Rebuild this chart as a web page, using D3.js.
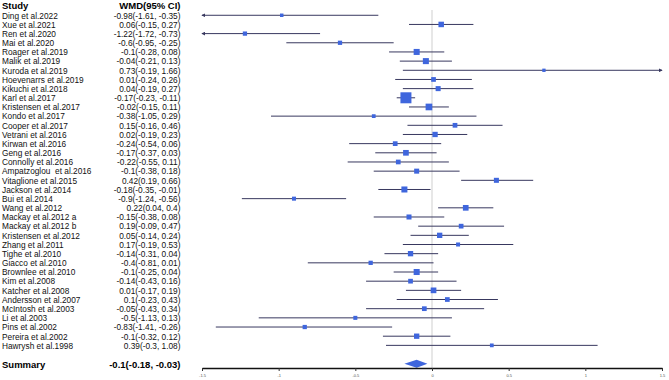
<!DOCTYPE html>
<html>
<head>
<meta charset="utf-8">
<script src="https://cdn.jsdelivr.net/npm/d3@7"></script>
<style>
  body { margin: 0; background: #fff; }
  svg { display: block; font-family: Arial, "Liberation Sans", sans-serif; }
</style>
</head>
<body>
<div id="chart"></div>
<script>
// study data
var studies = ["Ding et al.2022", "Xue et al.2021", "Ren et al.2020", "Mai et al.2020",
  "Roager et al.2019", "Malik et al.2019", "Kuroda et al.2019", "Hoevenarrs et al.2019",
  "Kikuchi et al.2018", "Karl et al.2017", "Kristensen et al.2017", "Kondo et al.2017",
  "Cooper et al.2017", "Vetrani et al.2016", "Kirwan et al.2016", "Geng et al.2016",
  "Connolly et al.2016", "Ampatzoglou  et al.2016", "Vitaglione et al.2015", "Jackson et al.2014",
  "Bui et al.2014", "Wang et al.2012", "Mackay et al.2012 a", "Mackay et al.2012 b",
  "Kristensen et al.2012", "Zhang et al.2011", "Tighe et al.2010", "Giacco et al.2010",
  "Brownlee et al.2010", "Kim et al.2008", "Katcher et al.2008", "Andersson et al.2007",
  "McIntosh et al.2003", "Li et al.2003", "Pins et al.2002", "Pereira et al.2002",
  "Hawrysh et al.1998"];
var wmd = [-0.98, 0.06, -1.22, -0.6, -0.1, -0.04, 0.73, 0.01, 0.04, -0.17, -0.02, -0.38,
  0.15, 0.02, -0.24, -0.17, -0.22, -0.1, 0.42, -0.18, -0.9, 0.22, -0.15, 0.19, 0.05, 0.17,
  -0.14, -0.4, -0.1, -0.14, 0.01, 0.1, -0.05, -0.5, -0.83, -0.1, 0.39];
var lower = [-1.61, -0.15, -1.72, -0.95, -0.28, -0.21, -0.19, -0.24, -0.19, -0.23, -0.15, -1.05,
  -0.16, -0.19, -0.54, -0.37, -0.55, -0.38, 0.19, -0.35, -1.24, 0.04, -0.38, -0.09, -0.14, -0.19,
  -0.31, -0.81, -0.25, -0.43, -0.17, -0.23, -0.43, -1.13, -1.41, -0.32, -0.3];
var upper = [-0.35, 0.27, -0.73, -0.25, 0.08, 0.13, 1.66, 0.26, 0.27, -0.11, 0.11, 0.29,
  0.46, 0.23, 0.06, 0.03, 0.11, 0.18, 0.66, -0.01, -0.56, 0.4, 0.08, 0.47, 0.24, 0.53,
  0.04, 0.01, 0.04, 0.16, 0.19, 0.43, 0.34, 0.13, -0.26, 0.12, 1.08];
// relative study weights
var weights = [1.2, 3.0, 1.8, 1.8, 3.6, 3.6, 1.1, 2.2, 2.5, 12.0, 4.4, 1.4,
  2.2, 2.8, 2.2, 3.2, 2.2, 2.5, 2.5, 3.6, 1.6, 3.2, 2.5, 2.2, 2.8, 1.6,
  2.8, 1.8, 3.6, 2.2, 3.2, 2.2, 2.2, 1.6, 1.8, 2.8, 1.4];
var summaryLabel = "Summary";
var summaryValues = [-0.1, -0.18, -0.03]; // wmd, lower, upper
var tickValues = [-1.5, -1, -0.5, 0, 0.5, 1, 1.5];

var width = 669, height = 380
  , blue = "#3f66dd"
  , lineColor = "#38385f";

var svg = d3.select("#chart").append("svg")
    .attr("width", width)
    .attr("height", height);

// scales
var x = d3.scaleLinear().domain([-1.5, 1.5]).range([202, 662]);
var y = d3.scaleLinear().domain([-1, 38]).range([6.1, 363.7]);
var boxSize = d3.scaleSqrt().domain([0, 12]).range([0, 11]);

// arrow marker for clipped intervals
svg.append("defs").append("marker")
    .attr("id", "arrow")
    .attr("viewBox", "0 0 6 6")
    .attr("refX", 5).attr("refY", 3)
    .attr("markerWidth", 4).attr("markerHeight", 4)
    .attr("markerUnits", "userSpaceOnUse")
    .attr("orient", "auto-start-reverse")
  .append("path")
    .attr("d", "M0,0L6,3L0,6Z")
    .attr("fill", lineColor);

// header
svg.append("text")
    .attr("x", 2).attr("y", y(-1)).attr("dy", "0.35em")
    .attr("font-size", 9.5).attr("font-weight", "bold")
    .text("Study");
svg.append("text")
    .attr("x", 180.5).attr("y", y(-1)).attr("dy", "0.35em")
    .attr("text-anchor", "end")
    .attr("font-size", 9.5).attr("font-weight", "bold")
    .text("WMD(95% CI)");

var rows = studies.map(function(s, i) {
  return {name: s, wmd: wmd[i], lo: lower[i], hi: upper[i], w: weights[i], i: i};
});

// study names + estimates
var txt = svg.append("g").attr("font-size", 8.3).attr("fill", "#111");
txt.selectAll(".name").data(rows).enter().append("text")
    .attr("class", "name")
    .attr("x", 2).attr("y", function(d) { return y(d.i); })
    .attr("dy", "0.4em")
    .style("white-space", "pre")
    .text(function(d) { return d.name; });
txt.selectAll(".est").data(rows).enter().append("text")
    .attr("class", "est")
    .attr("x", 180.5).attr("y", function(d) { return y(d.i); })
    .attr("dy", "0.4em")
    .attr("text-anchor", "end")
    .text(function(d) { return d.wmd + "(" + d.lo + ", " + d.hi + ")"; });

// summary text
svg.append("text")
    .attr("x", 2).attr("y", y(38)).attr("dy", "0.4em")
    .attr("font-size", 9.5).attr("font-weight", "bold")
    .text(summaryLabel);
svg.append("text")
    .attr("x", 180.5).attr("y", y(38)).attr("dy", "0.4em")
    .attr("text-anchor", "end")
    .attr("font-size", 9.5).attr("font-weight", "bold")
    .text(summaryValues[0] + "(" + summaryValues[1] + ", " + summaryValues[2] + ")");

// zero reference line
svg.append("line")
    .attr("x1", x(0)).attr("x2", x(0))
    .attr("y1", 10).attr("y2", 368)
    .attr("stroke", "#cfcfcf").attr("stroke-width", 1);

// confidence intervals
var dom = x.domain();
svg.append("g").selectAll("line").data(rows).enter().append("line")
    .attr("x1", function(d) { return x(Math.max(d.lo, dom[0])); })
    .attr("x2", function(d) { return x(Math.min(d.hi, dom[1])); })
    .attr("y1", function(d) { return y(d.i); })
    .attr("y2", function(d) { return y(d.i); })
    .attr("stroke", lineColor).attr("stroke-width", 1)
    .attr("marker-start", function(d) { return d.lo < dom[0] ? "url(#arrow)" : null; })
    .attr("marker-end", function(d) { return d.hi > dom[1] ? "url(#arrow)" : null; });

// weighted boxes
svg.append("g").selectAll("rect").data(rows).enter().append("rect")
    .attr("x", function(d) { return x(d.wmd) - boxSize(d.w) / 2; })
    .attr("y", function(d) { return y(d.i) - boxSize(d.w) / 2; })
    .attr("width", function(d) { return boxSize(d.w); })
    .attr("height", function(d) { return boxSize(d.w); })
    .attr("fill", blue);

// summary diamond
var sy = y(38);
svg.append("path")
    .attr("d", "M" + x(summaryValues[1]) + "," + sy +
               "L" + x(summaryValues[0]) + "," + (sy - 4) +
               "L" + x(summaryValues[2]) + "," + sy +
               "L" + x(summaryValues[0]) + "," + (sy + 4) + "Z")
    .attr("fill", blue);

// x axis
var axis = svg.append("g")
    .attr("transform", "translate(0,368)")
    .call(d3.axisBottom(x).tickValues(tickValues).tickSize(3).tickSizeOuter(0)
      .tickFormat(function(d) { return String(d); }));
axis.select(".domain").attr("stroke", "#111").attr("stroke-width", 1.4);
axis.selectAll(".tick line").attr("stroke", "#333");
axis.selectAll(".tick text")
    .attr("font-size", 4).attr("fill", "#555").attr("font-family", "Arial, sans-serif");
</script>
</body>
</html>
